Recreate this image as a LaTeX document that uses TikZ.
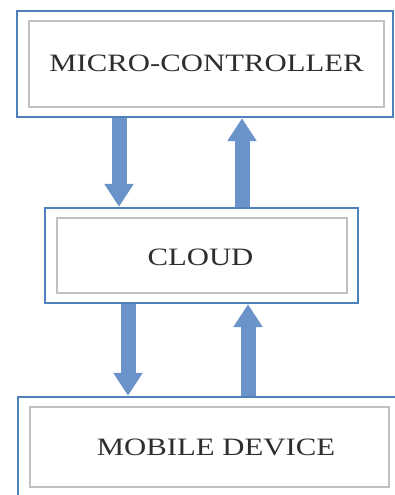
\documentclass[tikz,border=0pt]{standalone}
\usepackage{fontspec}
\setmainfont{Liberation Serif}
\usetikzlibrary{arrows.meta}
\definecolor{boxblue}{HTML}{4F81BD}
\definecolor{innergray}{HTML}{BFBFBF}
\definecolor{arrowblue}{HTML}{6A94C9}
\definecolor{txt}{HTML}{2E2E2E}
\tikzset{
  outerbox/.style={draw=boxblue, line width=2.4pt, rectangle, inner sep=0pt},
  innerbox/.style={draw=innergray, line width=1.5pt, rectangle, inner sep=0pt},
  lbl/.style={inner sep=0pt, text=txt, font=\fontsize{25}{30}\selectfont},
  blockarrow/.style={draw=arrowblue, line width=15pt, line cap=butt,
    -{Triangle[width=28pt,length=23pt]}},
}
\newcommand{\wide}[1]{\scalebox{1.23}[1]{#1}}
\begin{document}
\begin{tikzpicture}[x=1pt,y=-1pt]
\useasboundingbox (0,0) rectangle (395,495);
% top
\node[outerbox, minimum width=376pt, minimum height=106pt] (top) at (205,64) {};
\node[innerbox, minimum width=355pt, minimum height=86pt] (topin) at (206.5,64) {};
\node[lbl] (toptext) at (206.5,63) {\wide{MICRO-CONTROLLER}};
% cloud
\node[outerbox, minimum width=313pt, minimum height=95pt] (cloud) at (201.5,255.5) {};
\node[innerbox, minimum width=290pt, minimum height=75pt] (cloudin) at (202,255.5) {};
\node[lbl] (cloudtext) at (200.5,257) {\wide{CLOUD}};
% mobile
\node[outerbox, minimum width=382pt, minimum height=103pt] (mob) at (209,448.5) {};
\node[innerbox, minimum width=359pt, minimum height=80pt] (mobin) at (209.5,447) {};
\node[lbl] (mobtext) at (216,447) {\wide{MOBILE DEVICE}};
% arrows
\draw[blockarrow] (top.south -| 119,0) -- (cloud.north -| 119,0);
\draw[blockarrow] (cloud.north -| 242,0) -- (top.south -| 242,0);
\draw[blockarrow] (cloud.south -| 128,0) -- (mob.north -| 128,0);
\draw[blockarrow] (mob.north -| 248,0) -- (cloud.south -| 248,0);
\end{tikzpicture}
\end{document}
